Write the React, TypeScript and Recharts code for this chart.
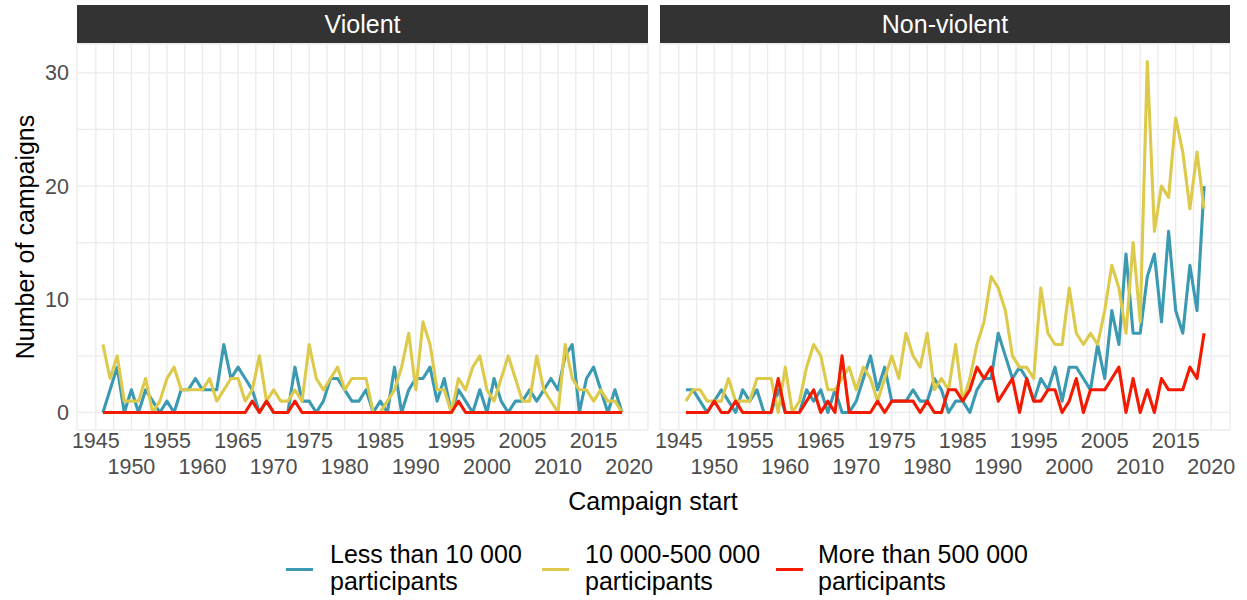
import React from "react";
import { LineChart, Line, XAxis, YAxis, CartesianGrid } from "recharts";

// Campaign counts per start year, 1946–2019
const FIRST_YEAR = 1946;

const VIOLENT_SMALL = [
  0, 2, 4, 0, 2, 0, 2, 1, 0, 1,
  0, 2, 2, 3, 2, 2, 2, 6, 3, 4,
  3, 2, 0, 1, 0, 0, 0, 4, 1, 1,
  0, 1, 3, 3, 2, 1, 1, 2, 0, 1,
  0, 4, 0, 2, 3, 3, 4, 1, 3, 0,
  2, 1, 0, 2, 0, 3, 1, 0, 1, 1,
  2, 1, 2, 3, 2, 5, 6, 0, 3, 4,
  2, 0, 2, 0,
];
const VIOLENT_MEDIUM = [
  6, 3, 5, 1, 1, 1, 3, 0, 1, 3,
  4, 2, 2, 2, 2, 3, 1, 2, 3, 3,
  1, 2, 5, 1, 2, 1, 1, 2, 1, 6,
  3, 2, 3, 4, 2, 3, 3, 3, 0, 0,
  1, 2, 4, 7, 2, 8, 6, 2, 2, 0,
  3, 2, 4, 5, 2, 1, 3, 5, 3, 1,
  1, 5, 2, 1, 0, 6, 3, 2, 2, 1,
  2, 1, 1, 0,
];
const VIOLENT_LARGE = [
  0, 0, 0, 0, 0, 0, 0, 0, 0, 0,
  0, 0, 0, 0, 0, 0, 0, 0, 0, 0,
  0, 1, 0, 1, 0, 0, 0, 1, 0, 0,
  0, 0, 0, 0, 0, 0, 0, 0, 0, 0,
  0, 0, 0, 0, 0, 0, 0, 0, 0, 0,
  1, 0, 0, 0, 0, 0, 0, 0, 0, 0,
  0, 0, 0, 0, 0, 0, 0, 0, 0, 0,
  0, 0, 0, 0,
];

const NONVIOLENT_SMALL = [
  2, 2, 1, 0, 1, 2, 1, 0, 2, 1,
  2, 0, 0, 2, 0, 0, 0, 2, 1, 2,
  0, 2, 0, 0, 1, 3, 5, 2, 4, 1,
  1, 1, 2, 1, 1, 3, 2, 0, 1, 1,
  0, 2, 3, 3, 7, 5, 3, 4, 3, 1,
  3, 2, 4, 1, 4, 4, 3, 2, 6, 3,
  9, 6, 14, 7, 7, 12, 14, 8, 16, 9,
  7, 13, 9, 20,
];
const NONVIOLENT_MEDIUM = [
  1, 2, 2, 1, 1, 1, 3, 1, 1, 1,
  3, 3, 3, 0, 4, 0, 1, 4, 6, 5,
  2, 2, 3, 4, 2, 4, 3, 1, 3, 5,
  3, 7, 5, 4, 7, 2, 3, 2, 6, 1,
  3, 6, 8, 12, 11, 9, 5, 4, 4, 3,
  11, 7, 6, 6, 11, 7, 6, 7, 6, 9,
  13, 11, 7, 15, 8, 31, 16, 20, 19, 26,
  23, 18, 23, 18,
];
const NONVIOLENT_LARGE = [
  0, 0, 0, 0, 1, 0, 0, 1, 0, 0,
  0, 0, 0, 3, 0, 0, 0, 1, 2, 0,
  1, 0, 5, 0, 0, 0, 0, 1, 0, 1,
  1, 1, 1, 0, 1, 0, 0, 2, 2, 1,
  2, 4, 3, 4, 1, 2, 3, 0, 3, 1,
  1, 2, 2, 0, 1, 3, 0, 2, 2, 2,
  3, 4, 0, 3, 0, 2, 0, 3, 2, 2,
  2, 4, 3, 7,
];

const PANEL_TITLES = ["Violent", "Non-violent"];
const SERIES_LABELS = [
  ["Less than 10 000", "participants"],
  ["10 000-500 000", "participants"],
  ["More than 500 000", "participants"],
];
const SERIES_COLORS = ["#3B9AB2", "#DDCA4C", "#F21A00"];

// axis breaks: labelled every 5 years / 10 campaigns, minor grid halfway
const X_MAJOR = [1945, 1950, 1955, 1960, 1965, 1970, 1975, 1980, 1985, 1990, 1995, 2000, 2005, 2010, 2015, 2020];
const Y_MAJOR = [0, 10, 20, 30];
const X_BREAKS = X_MAJOR.flatMap((v, i) => (i < X_MAJOR.length - 1 ? [v, v + 2.5] : [v]));
const Y_BREAKS = Y_MAJOR.flatMap((v, i) => (i < Y_MAJOR.length - 1 ? [v, v + 5] : [v]));

const X_DOMAIN: [number, number] = [1942.35, 2022.65];
const Y_DOMAIN: [number, number] = [-1.55, 32.55];

const FONT = "'Liberation Sans', Arial, Helvetica, sans-serif";
const TICK_SIZE = 21.5;

function buildRows(small: number[], medium: number[], large: number[]) {
  return small.map((s, i) => ({
    year: FIRST_YEAR + i,
    small: s,
    medium: medium[i],
    large: large[i],
  }));
}

const violentRows = buildRows(VIOLENT_SMALL, VIOLENT_MEDIUM, VIOLENT_LARGE);
const nonViolentRows = buildRows(NONVIOLENT_SMALL, NONVIOLENT_MEDIUM, NONVIOLENT_LARGE);

// year labels alternate between two rows
const XTick = (props: any) => {
  const { x, payload } = props;
  const v = payload.value;
  if (v % 5 !== 0) return <g />;
  const k = Math.round((v - 1945) / 5);
  const y = k % 2 === 0 ? 447.5 : 473.5;
  return (
    <text x={x} y={y} textAnchor="middle" fontSize={TICK_SIZE} fill="#4D4D4D" fontFamily={FONT}>
      {v}
    </text>
  );
};

const YTick = (props: any) => {
  const { y, payload } = props;
  const v = payload.value;
  if (v % 10 !== 0) return <g />;
  return (
    <text x={69} y={y} dy="0.35em" textAnchor="end" fontSize={TICK_SIZE} fill="#4D4D4D" fontFamily={FONT}>
      {v}
    </text>
  );
};

function Panel({
  rows,
  width,
  margin,
  showY,
}: {
  rows: any[];
  width: number;
  margin: { top: number; right: number; bottom: number; left: number };
  showY: boolean;
}) {
  return (
    <LineChart width={width} height={480} data={rows} margin={margin}>
      <CartesianGrid stroke="#EBEBEB" strokeWidth={1.3} />
      <XAxis
        dataKey="year"
        type="number"
        domain={X_DOMAIN}
        ticks={X_BREAKS}
        interval={0}
        allowDataOverflow
        tickLine={false}
        axisLine={false}
        height={50}
        tick={<XTick />}
      />
      <YAxis
        type="number"
        domain={Y_DOMAIN}
        ticks={Y_BREAKS}
        interval={0}
        allowDataOverflow
        tickLine={false}
        axisLine={false}
        width={showY ? 60 : 0}
        hide={!showY}
        tick={<YTick />}
      />
      {["small", "medium", "large"].map((key, i) => (
        <Line
          key={key}
          type="linear"
          dataKey={key}
          stroke={SERIES_COLORS[i]}
          strokeWidth={3.1}
          strokeLinejoin="round"
          dot={false}
          activeDot={false}
          isAnimationActive={false}
        />
      ))}
    </LineChart>
  );
}

const stripStyle = (left: number, width: number): React.CSSProperties => ({
  position: "absolute",
  left,
  top: 5,
  width,
  height: 38,
  background: "#333333",
  color: "#FFFFFF",
  fontFamily: FONT,
  fontSize: 25,
  lineHeight: "38px",
  textAlign: "center",
});

export default function App() {
  const legendItems = [
    { keyLeft: 286, textLeft: 330 },
    { keyLeft: 542, textLeft: 585 },
    { keyLeft: 776, textLeft: 818 },
  ];
  return (
    <div
      style={{
        position: "absolute",
        left: 0,
        top: 0,
        width: 1247,
        height: 600,
        background: "#FFFFFF",
        overflow: "hidden",
        fontFamily: FONT,
      }}
    >
      <div style={{ position: "absolute", left: 0, top: 0 }}>
        <Panel rows={violentRows} width={655} margin={{ top: 44, right: 7, bottom: 0, left: 17 }} showY />
      </div>
      <div style={{ position: "absolute", left: 655, top: 0 }}>
        <Panel rows={nonViolentRows} width={592} margin={{ top: 44, right: 17, bottom: 0, left: 5 }} showY={false} />
      </div>

      <div style={stripStyle(77, 571)}>{PANEL_TITLES[0]}</div>
      <div style={stripStyle(660, 570)}>{PANEL_TITLES[1]}</div>

      <div
        style={{
          position: "absolute",
          left: 453,
          top: 486,
          width: 400,
          textAlign: "center",
          fontSize: 25,
          color: "#000",
          lineHeight: "30px",
        }}
      >
        Campaign start
      </div>
      <div
        style={{
          position: "absolute",
          left: 25 - 150,
          top: 237 - 15,
          width: 300,
          height: 30,
          lineHeight: "30px",
          textAlign: "center",
          fontSize: 25,
          color: "#000",
          transform: "rotate(-90deg)",
        }}
      >
        Number of campaigns
      </div>

      {legendItems.map((item, i) => (
        <React.Fragment key={i}>
          <div
            style={{
              position: "absolute",
              left: item.keyLeft,
              top: 568,
              width: 27,
              height: 3,
              background: SERIES_COLORS[i],
            }}
          />
          <div
            style={{
              position: "absolute",
              left: item.textLeft,
              top: 541,
              fontSize: 25,
              lineHeight: "27px",
              color: "#000",
              whiteSpace: "nowrap",
            }}
          >
            {SERIES_LABELS[i][0]}
            <br />
            {SERIES_LABELS[i][1]}
          </div>
        </React.Fragment>
      ))}
    </div>
  );
}
